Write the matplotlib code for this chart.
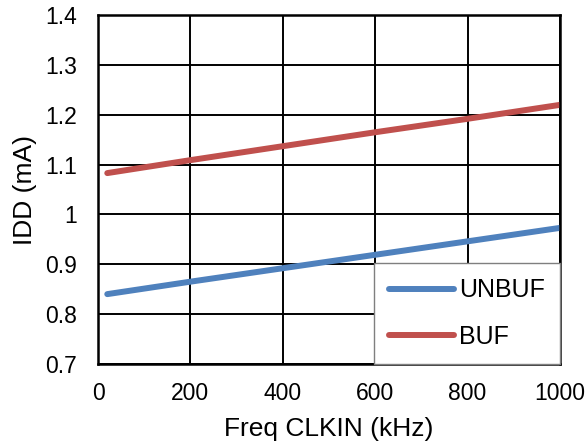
import numpy as np
from matplotlib import pyplot as plt

plt.rcParams['font.family'] = ['Liberation Sans', 'DejaVu Sans']

freq_x = [20, 200, 400, 600, 800, 1000]
unbuf_y = [0.840, 0.865, 0.892, 0.919, 0.946, 0.973]
buf_y = [1.083, 1.109, 1.137, 1.165, 1.192, 1.220]

x_ticks = [0, 200, 400, 600, 800, 1000]
y_ticks = [0.7, 0.8, 0.9, 1.0, 1.1, 1.2, 1.3, 1.4]
y_labels = ['0.7', '0.8', '0.9', '1', '1.1', '1.2', '1.3', '1.4']

fig = plt.figure(figsize=(5.87, 4.47), dpi=100)
ax = fig.add_axes([0.167, 0.186, 0.787, 0.780])

ax.plot(freq_x, unbuf_y, color='#4F81BD', lw=4.3, solid_capstyle='round', label='UNBUF')
ax.plot(freq_x, buf_y, color='#C0504D', lw=4.3, solid_capstyle='round', label='BUF')

ax.set_xlim(0, 1000)
ax.set_ylim(0.7, 1.4)
ax.set_xticks(x_ticks)
ax.set_yticks(y_ticks, labels=y_labels)
ax.grid(True, color='black', lw=1.4)
ax.tick_params(axis='both', labelsize=16.5, length=0)
ax.tick_params(axis='y', pad=15)
ax.tick_params(axis='x', pad=13)
for s in ax.spines.values():
    s.set_linewidth(1.8)

ax.set_xlabel('Freq CLKIN (kHz)', fontsize=19, labelpad=9)
ax.set_ylabel('IDD (mA)', fontsize=19, labelpad=6)

leg = ax.legend(loc='lower right', bbox_to_anchor=(1, 0), borderaxespad=0,
                fontsize=18, handlelength=2.6, handletextpad=0.2,
                labelspacing=0.9, borderpad=0.6, fancybox=False,
                framealpha=1, edgecolor='#7f7f7f')
leg.get_frame().set_linewidth(1.0)

plt.savefig('out.png', dpi=100)
